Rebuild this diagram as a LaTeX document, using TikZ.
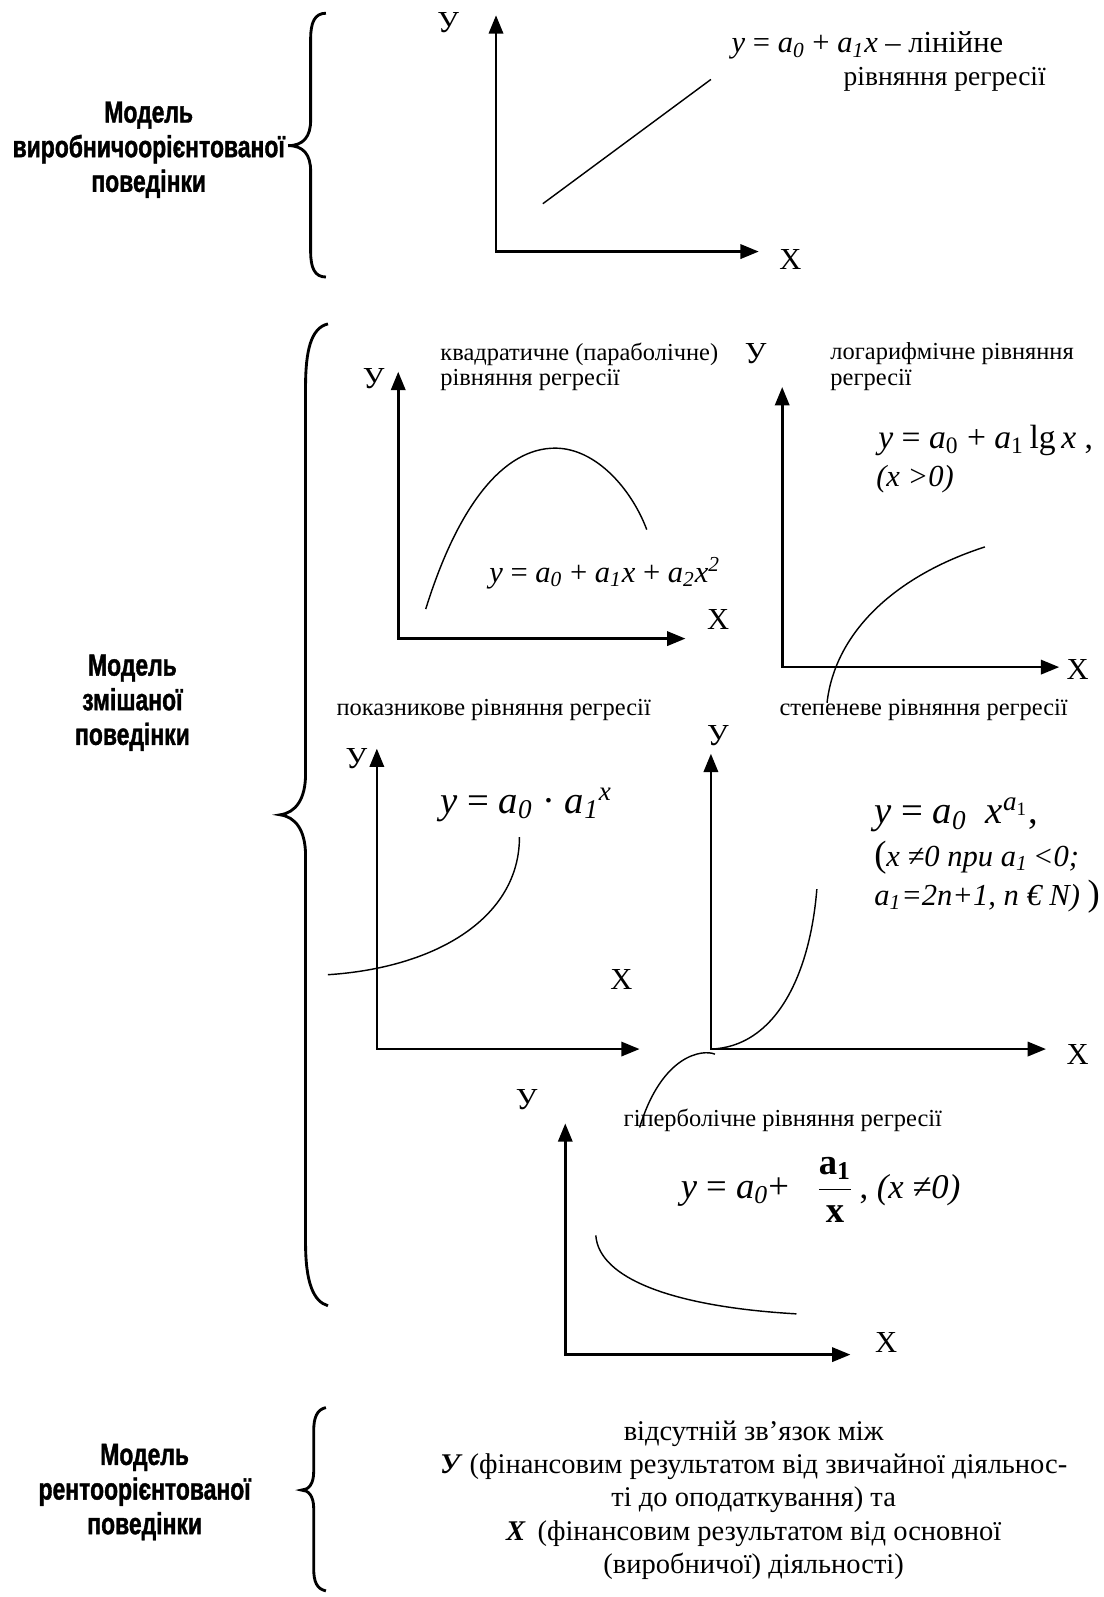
\documentclass[tikz,border=0pt]{standalone}
\usepackage{amsmath}
\usepackage{fontspec}
\setmainfont{Liberation Serif}
\setsansfont{Liberation Sans}
\newfontfamily\modelfont[FakeStretch=0.75,FakeBold=1.2]{Liberation Sans}
\usetikzlibrary{arrows.meta}
\tikzset{
  axes/.style={<->,>={Triangle[length=9pt,width=7pt]},line width=1.3pt},
  curve/.style={line width=0.7pt},
  brace/.style={line width=1.4pt},
  model/.style={font=\fontsize{15}{17}\selectfont\modelfont\bfseries,align=center},
  axlab/.style={font=\fontsize{15}{15}\selectfont,inner sep=0pt},
  note/.style={font=\fontsize{12}{12.5}\selectfont,align=left,inner sep=0pt,anchor=west},
  eq/.style={font=\fontsize{15}{16}\selectfont,inner sep=0pt,anchor=west},
  eqbig/.style={font=\fontsize{19}{21}\selectfont,inner sep=0pt,anchor=west},
  body/.style={font=\fontsize{14}{16.3}\selectfont,align=center},
}

\begin{document}
\begin{tikzpicture}[x=0.5pt,y=-0.5pt]
  \useasboundingbox (0,0) rectangle (1083,1568);
  % axes: name/origin x/origin y/top of y axis/end of x axis
  \foreach \g/\ox/\oy/\yt/\xe in {lin/487/247/15/745, quad/391/627/365/673,
      log/768/655/380/1040, exp/370/1030/735/628, pow/698/1030/740/1027,
      hyp/555/1330/1103/835}{
    \coordinate (\g-o) at (\ox,\oy);
    \coordinate (\g-y) at (\ox,\yt);
    \coordinate (\g-x) at (\xe,\oy);
    \draw[axes] (\g-y) -- (\g-o) -- (\g-x);
  }
  \node[axlab] (lin-yl) at (440,22) {У};
  \node[axlab] (lin-xl) at (776,255) {X};
  \node[axlab] (quad-yl) at (367,372) {У};
  \node[axlab] (quad-xl) at (705,608) {X};
  \node[axlab] (log-yl) at (742,347) {У};
  \node[axlab] (log-xl) at (1058,657) {X};
  \node[axlab] (exp-yl) at (350,745) {У};
  \node[axlab] (exp-xl) at (610,962) {X};
  \node[axlab] (pow-yl) at (705,722) {У};
  \node[axlab] (pow-xl) at (1058,1035) {X};
  \node[axlab] (hyp-yl) at (517,1080) {У};
  \node[axlab] (hyp-xl) at (870,1318) {X};

  % models and braces
  \node[model] (m1) at (146,147) {Модель\\виробничоорієнтованої\\поведінки};
  \node[model] (m2) at (130,690) {Модель\\змішаної\\поведінки};
  \node[model] (m3) at (142,1465) {Модель\\рентоорієнтованої\\поведінки};
  \draw[brace] (320,13) .. controls (309,13) and (305,22) .. (305,38) -- (305,118)
    .. controls (305,134) and (298,143) .. (283,143) .. controls (298,143) and (305,152) .. (305,168)
    -- (305,247) .. controls (305,263) and (309,272) .. (320,272);
  \draw[brace] (322,318) .. controls (305,322) and (300,345) .. (300,380) -- (300,760)
    .. controls (300,785) and (290,798) .. (275,800) .. controls (290,802) and (300,815) .. (300,840)
    -- (300,1220) .. controls (300,1260) and (308,1278) .. (322,1282);
  \draw[brace] (320,1382) .. controls (311,1384) and (308,1392) .. (308,1405) -- (308,1445)
    .. controls (308,1457) and (303,1463) .. (296,1463) .. controls (303,1463) and (308,1469) .. (308,1481)
    -- (308,1540) .. controls (308,1553) and (311,1560) .. (320,1562);

  % linear
  \draw[curve] (533,200) -- (698,78);
  \node[eq] (eqlin) at (718,45) {\textit{y} = \textit{a}\textsubscript{\textit{0}} + \textit{a}\textsubscript{\textit{1}}\textit{x} – лінійне};
  \node[eq,font=\fontsize{13.5}{15}\selectfont] (eqlin2) at (828,78) {рівняння регресії};

  % quadratic
  \draw[curve] (418,598) .. controls (450,495) and (495,440) .. (545,440)
    .. controls (585,440) and (620,480) .. (635,520);
  \node[note] (tquad) at (432,360) {квадратичне (параболічне)\\рівняння регресії};
  \node[eq] (eqquad) at (480,563) {\textit{y} = \textit{a}\textsubscript{\textit{0}} + \textit{a}\textsubscript{\textit{1}}\textit{x} + \textit{a}\textsubscript{\textit{2}}\textit{x}\textsuperscript{\textit{2}}};

  % logarithmic
  \draw[curve] (812,690) .. controls (820,620) and (880,565) .. (967,537);
  \node[note] (tlog) at (815,360) {логарифмічне рівняння\\регресії};
  \node[eqbig,font=\fontsize{16.5}{18}\selectfont] (eqlog) at (862,432) {\textit{y} = \textit{a}\textsubscript{0} + \textit{a}\textsubscript{1}\,lg\,\textit{x} ,};
  \node[eq] (eqlog2) at (860,470) {\textit{(x >0)}};

  % exponential
  \draw[curve] (322,957) .. controls (430,950) and (510,900) .. (510,822);
  \node[note] (texp) at (330,697) {показникове рівняння регресії};
  \node[eqbig] (eqexp) at (432,790) {\textit{y} = \textit{a}\textsubscript{\textit{0}} · \textit{a}\textsubscript{\textit{1}}\textsuperscript{\textit{x}}};

  % power
  \draw[curve] (698,1030) .. controls (760,1028) and (795,960) .. (802,873);
  \draw[curve] (702,1035) .. controls (690,1030) and (650,1035) .. (628,1107);
  \node[note] (tpow) at (765,697) {степеневе рівняння регресії};
  \node[eqbig] (eqpow) at (858,800) {\textit{y} = \textit{a}\textsubscript{\textit{0}}\ \ \textit{x}\textsuperscript{\textit{a}\textsubscript{1}},};
  \node[eq] (eqpow2) at (858,842) {{\fontsize{18}{18}\selectfont(}\textit{x ≠0 при a}\textsubscript{\textit{1}}\,\textit{<0;}};
  \node[eq] (eqpow3) at (858,880) {\textit{a}\textsubscript{\textit{1}}\textit{=2n+1, n € N)} {\fontsize{18}{18}\selectfont)}};

  % hyperbolic
  \draw[curve] (585,1213) .. controls (588,1255) and (660,1283) .. (782,1290);
  \node[note] (thyp) at (612,1100) {гіперболічне рівняння регресії};
  \node[eqbig,font=\fontsize{18}{20}\selectfont] (eqhyp) at (668,1168) {\textit{y} = \textit{a}\textsubscript{\textit{0}}+ \ \ $\displaystyle\frac{\mathbf{a}_{\mathbf{1}}}{\mathbf{x}}$\,{\fontsize{17}{17}\selectfont, \textit{(x ≠0)}}};

  % rent-oriented
  \node[body] (trent) at (740,1473) {відсутній зв’язок між\\
    \textbf{\textit{У}} (фінансовим результатом від звичайної діяльнос-\\
    ті до оподаткування) та\\
    \textbf{\textit{X}}\,  (фінансовим результатом від основної\\
    (виробничої) діяльності)};
\end{tikzpicture}
\end{document}
